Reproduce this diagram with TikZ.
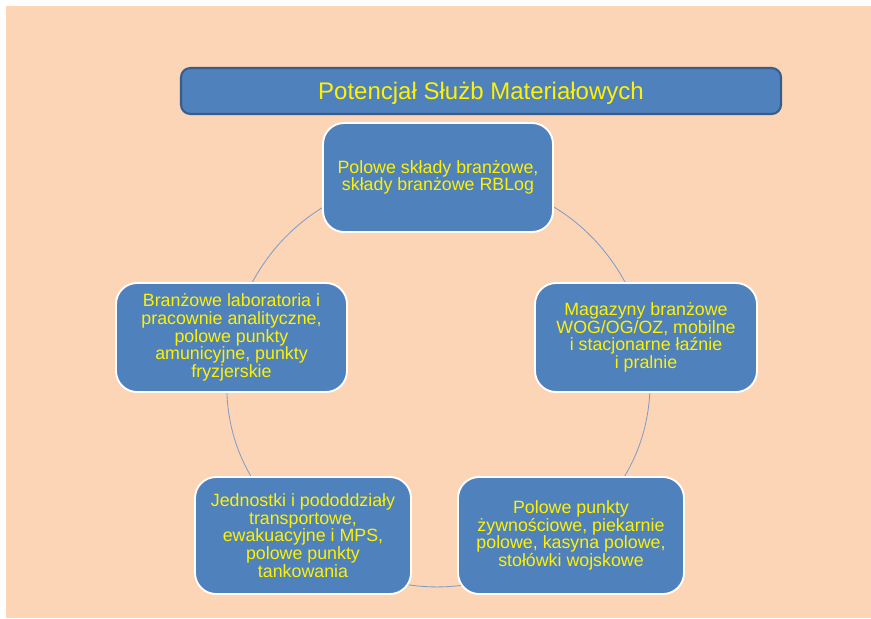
\documentclass[tikz,border=0pt]{standalone}
\usepackage{fontspec}
\setmainfont{Liberation Sans}
\definecolor{peach}{HTML}{FBD5B5}
\definecolor{boxblue}{HTML}{4F81BD}
\definecolor{boxedge}{HTML}{385D8A}
\definecolor{ringline}{HTML}{7F9CC8}
\begin{document}
\begin{tikzpicture}[x=0.03cm,y=-0.03cm,
  item/.style={draw=white,line width=1.6pt,fill=boxblue,rounded corners=18,
    text=yellow,align=center,inner sep=0pt,
    font=\fontsize{15.2}{15.1}\selectfont},
  ring/.style={draw=ringline,line width=0.7pt}]
\useasboundingbox (0,0) rectangle (871,618);
\fill[peach] (6,6) rectangle (871,618);

\node[draw=boxedge,line width=1.8pt,fill=boxblue,rounded corners=8,
  minimum width=600*0.03cm,minimum height=46*0.03cm,text=yellow,text depth=0pt,
  font=\fontsize{20.5}{24}\selectfont] (title) at (481,91) {Potencjał Służb Materiałowych};

% cycle
\draw[ring] (438,177.5) to[bend right=39] (231.5,337.5);
\draw[ring] (231.5,337.5) to[bend right=31] (303,535.5);
\draw[ring] (303,535.5) to[bend right=41] (571,535.5);
\draw[ring] (571,535.5) to[bend right=31] (646,337.5);
\draw[ring] (646,337.5) to[bend right=39] (438,177.5);

\node[item,minimum width=230*0.03cm,minimum height=109*0.03cm] (top) at (438,177.5)
  {Polowe składy branżowe,\\składy branżowe RBLog};
\node[item,minimum width=231*0.03cm,minimum height=109*0.03cm] (left) at (231.5,337.5)
  {Branżowe laboratoria i\\pracownie analityczne,\\polowe punkty\\amunicyjne, punkty\\fryzjerskie};
\node[item,minimum width=222*0.03cm,minimum height=109*0.03cm] (right) at (646,337.5)
  {Magazyny branżowe\\WOG/OG/OZ, mobilne\\i stacjonarne łaźnie\\i pralnie};
\node[item,minimum width=216*0.03cm,minimum height=117*0.03cm] (botleft) at (303,535.5)
  {Jednostki i pododdziały\\transportowe,\\ewakuacyjne i MPS,\\polowe punkty\\tankowania};
\node[item,minimum width=226*0.03cm,minimum height=117*0.03cm] (botright) at (571,535.5)
  {Polowe punkty\\żywnościowe, piekarnie\\polowe, kasyna polowe,\\stołówki wojskowe};
\end{tikzpicture}
\end{document}
